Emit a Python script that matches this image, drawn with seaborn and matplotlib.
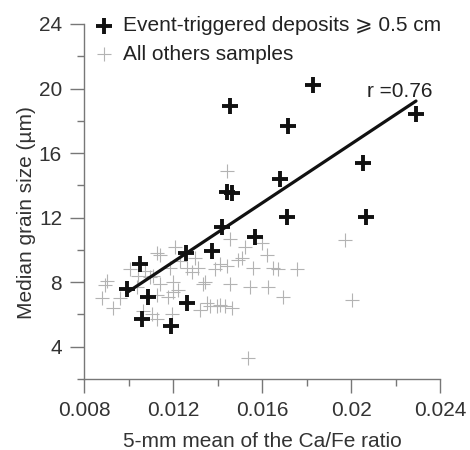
import matplotlib
matplotlib.use("Agg")
import matplotlib.pyplot as plt
import numpy as np
import pandas as pd
import seaborn as sns
from matplotlib.ticker import MultipleLocator

# Event-triggered deposits >= 0.5 cm
event_x = [0.0183, 0.01455, 0.01718, 0.02292, 0.02055, 0.0168, 0.01441, 0.01463,
           0.0171, 0.02067, 0.01418, 0.01568, 0.01373, 0.01258, 0.01051, 0.00991,
           0.01088, 0.01261, 0.01058, 0.0119]
event_y = [20.2, 18.9, 17.7, 18.4, 15.4, 14.4, 13.6, 13.5,
           12.05, 12.05, 11.4, 10.8, 9.95, 9.8, 9.1, 7.55,
           7.1, 6.7, 5.7, 5.3]

# all other samples
other_x = [0.00893, 0.00878, 0.0093, 0.00961, 0.01006, 0.01043, 0.01073, 0.01126,
           0.01141, 0.01208, 0.01186, 0.012, 0.01223, 0.01178, 0.01141, 0.01126,
           0.01193, 0.01298, 0.01283, 0.01313, 0.01343, 0.01351, 0.01321, 0.01388,
           0.01396, 0.01433, 0.01455, 0.01441, 0.01455, 0.01463, 0.01508, 0.01523,
           0.0156, 0.01545, 0.01598, 0.0162, 0.01628, 0.0165, 0.01673, 0.01695,
           0.01755, 0.01973, 0.02003, 0.01538, 0.01441, 0.00901, 0.01036, 0.01096,
           0.01103, 0.01261, 0.0123, 0.01366, 0.01411, 0.01066, 0.01111, 0.01126,
           0.01493, 0.01335, 0.0141, 0.012]
other_y = [7.8, 7.0, 6.4, 7.0, 8.8, 8.4, 8.7, 9.8,
           9.7, 10.2, 8.9, 8.0, 7.5, 7.1, 7.9, 5.7,
           6.0, 9.5, 8.6, 8.9, 8.0, 6.7, 6.3, 8.8,
           6.5, 6.5, 10.7, 9.0, 7.9, 6.4, 9.5, 10.2,
           8.9, 7.7, 10.4, 9.7, 7.7, 8.9, 8.8, 7.1,
           8.8, 10.6, 6.9, 3.3, 14.9, 8.1, 7.7, 8.3,
           6.0, 8.9, 9.3, 6.5, 9.1, 6.2, 8.4, 7.2,
           9.4, 7.9, 6.6, 7.4]

event_df = pd.DataFrame({"ratio": event_x, "grain": event_y})
other_df = pd.DataFrame({"ratio": other_x, "grain": other_y})

sns.set_style("ticks")
plt.rcParams["font.family"] = ["Liberation Sans", "DejaVu Sans"]
FS = 15

fig = plt.figure(figsize=(4.7, 4.5), dpi=100)
ax = fig.add_axes([0.1794, 0.1578, 0.7568, 0.7889])

sns.scatterplot(data=other_df, x="ratio", y="grain", marker="+", s=110,
                color="#b3b3b3", linewidth=0.8, label="All others samples", ax=ax, zorder=2)
sns.scatterplot(data=event_df, x="ratio", y="grain", marker="+", s=125,
                color="#111111", linewidth=2.8, label="Event-triggered deposits \u2a7e 0.5 cm",
                ax=ax, zorder=3)

# least-squares fit through the event deposits
slope, intercept = np.polyfit(event_df["ratio"], event_df["grain"], 1)
fit_x = np.array([event_df["ratio"].min(), event_df["ratio"].max()])
ax.plot(fit_x, slope * fit_x + intercept, color="#111111", lw=2.3, zorder=4)
ax.text(0.0207, 19.8, "r =0.76", fontsize=FS, color="#222222", va="center", ha="left")

ax.set_xlim(0.008, 0.024)
ax.set_ylim(2, 24)
ax.xaxis.set_minor_locator(MultipleLocator(0.002))
ax.yaxis.set_major_locator(MultipleLocator(4))
ax.yaxis.set_minor_locator(MultipleLocator(2))
ax.set_xticks([0.008, 0.012, 0.016, 0.02, 0.024])
ax.set_xticklabels(["0.008", "0.012", "0.016", "0.02", "0.024"])

sns.despine(ax=ax)
for side in ["left", "bottom"]:
    ax.spines[side].set_color("#777777")
    ax.spines[side].set_linewidth(1.0)
ax.tick_params(which="major", length=10, width=1.0, color="#777777", labelcolor="#333333",
               labelsize=FS, pad=6)
ax.tick_params(which="minor", length=5, width=1.0, color="#777777")

ax.set_xlabel("5-mm mean of the Ca/Fe ratio", fontsize=FS, color="#333333")
ax.set_ylabel("Median grain size (\u00b5m)", fontsize=FS, color="#333333")
ax.xaxis.set_label_coords(0.5, -0.15)
ax.yaxis.set_label_coords(-0.137, 0.47)

handles, labels = ax.get_legend_handles_labels()
ax.legend(handles[::-1], labels[::-1], loc="upper left", bbox_to_anchor=(0.025, 1.022),
          frameon=False, handlelength=1.0, handletextpad=0.45, borderpad=0,
          borderaxespad=0, labelspacing=0.45, fontsize=FS, labelcolor="#222222")

fig.savefig("out.png", dpi=100)
